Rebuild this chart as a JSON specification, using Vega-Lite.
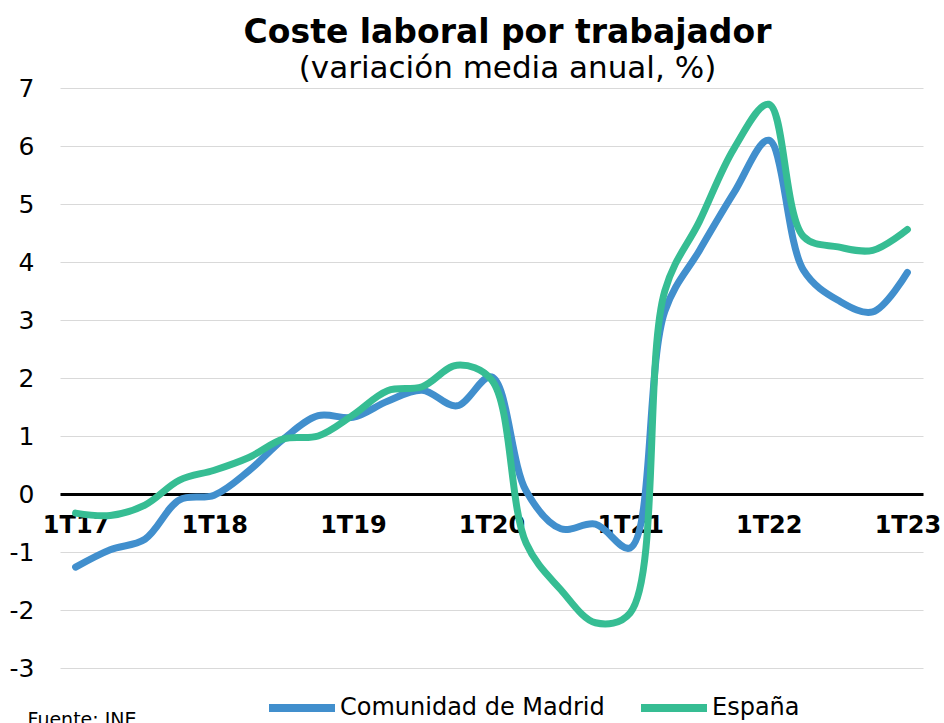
{
  "$schema": "https://vega.github.io/schema/vega-lite/v6.json",
  "width": 863,
  "height": 580,
  "autosize": {"type": "none"},
  "padding": {"left": 60, "top": 88, "right": 21, "bottom": 55},
  "background": "white",
  "title": {
    "text": "Coste laboral por trabajador",
    "subtitle": "(variación media anual, %)",
    "font": "DejaVu Sans",
    "fontSize": 33,
    "fontWeight": "bold",
    "color": "black",
    "subtitleFont": "DejaVu Sans",
    "subtitleFontSize": 31,
    "subtitleColor": "black",
    "subtitlePadding": 4,
    "anchor": "middle",
    "dx": 16,
    "offset": -8
  },
  "datasets": {
    "series": [
      {"q": "1T17", "serie": "Comunidad de Madrid", "v": -1.26},
      {"q": "2T17", "serie": "Comunidad de Madrid", "v": -0.96},
      {"q": "3T17", "serie": "Comunidad de Madrid", "v": -0.78},
      {"q": "4T17", "serie": "Comunidad de Madrid", "v": -0.1},
      {"q": "1T18", "serie": "Comunidad de Madrid", "v": -0.02},
      {"q": "2T18", "serie": "Comunidad de Madrid", "v": 0.4},
      {"q": "3T18", "serie": "Comunidad de Madrid", "v": 0.95},
      {"q": "4T18", "serie": "Comunidad de Madrid", "v": 1.35},
      {"q": "1T19", "serie": "Comunidad de Madrid", "v": 1.32},
      {"q": "2T19", "serie": "Comunidad de Madrid", "v": 1.6},
      {"q": "3T19", "serie": "Comunidad de Madrid", "v": 1.79},
      {"q": "4T19", "serie": "Comunidad de Madrid", "v": 1.52},
      {"q": "1T20", "serie": "Comunidad de Madrid", "v": 2.02},
      {"q": "2T20", "serie": "Comunidad de Madrid", "v": 0.05},
      {"q": "3T20", "serie": "Comunidad de Madrid", "v": -0.6},
      {"q": "4T20", "serie": "Comunidad de Madrid", "v": -0.52},
      {"q": "1T21", "serie": "Comunidad de Madrid", "v": -0.93},
      {"q": "2T21", "serie": "Comunidad de Madrid", "v": 3.15},
      {"q": "3T21", "serie": "Comunidad de Madrid", "v": 4.2},
      {"q": "4T21", "serie": "Comunidad de Madrid", "v": 5.2},
      {"q": "1T22", "serie": "Comunidad de Madrid", "v": 6.1},
      {"q": "2T22", "serie": "Comunidad de Madrid", "v": 3.86},
      {"q": "3T22", "serie": "Comunidad de Madrid", "v": 3.34},
      {"q": "4T22", "serie": "Comunidad de Madrid", "v": 3.14},
      {"q": "1T23", "serie": "Comunidad de Madrid", "v": 3.82},
      {"q": "1T17", "serie": "España", "v": -0.33},
      {"q": "2T17", "serie": "España", "v": -0.37},
      {"q": "3T17", "serie": "España", "v": -0.19},
      {"q": "4T17", "serie": "España", "v": 0.24},
      {"q": "1T18", "serie": "España", "v": 0.41},
      {"q": "2T18", "serie": "España", "v": 0.63},
      {"q": "3T18", "serie": "España", "v": 0.95},
      {"q": "4T18", "serie": "España", "v": 1.0},
      {"q": "1T19", "serie": "España", "v": 1.36},
      {"q": "2T19", "serie": "España", "v": 1.78},
      {"q": "3T19", "serie": "España", "v": 1.85},
      {"q": "4T19", "serie": "España", "v": 2.22},
      {"q": "1T20", "serie": "España", "v": 1.97},
      {"q": "2T20", "serie": "España", "v": -0.85},
      {"q": "3T20", "serie": "España", "v": -1.65},
      {"q": "4T20", "serie": "España", "v": -2.22},
      {"q": "1T21", "serie": "España", "v": -2.05},
      {"q": "2T21", "serie": "España", "v": 3.5},
      {"q": "3T21", "serie": "España", "v": 4.7},
      {"q": "4T21", "serie": "España", "v": 5.96},
      {"q": "1T22", "serie": "España", "v": 6.72},
      {"q": "2T22", "serie": "España", "v": 4.44},
      {"q": "3T22", "serie": "España", "v": 4.26},
      {"q": "4T22", "serie": "España", "v": 4.2},
      {"q": "1T23", "serie": "España", "v": 4.56}
    ]
  },
  "data": {"name": "series"},
  "mark": {"type": "line", "interpolate": "catmull-rom", "strokeWidth": 7, "strokeCap": "round", "strokeJoin": "round"},
  "encoding": {
    "x": {
      "field": "q",
      "type": "ordinal",
      "sort": null,
      "scale": {"type": "point", "padding": 0.45},
      "axis": {
        "values": ["1T17", "1T18", "1T19", "1T20", "1T21", "1T22", "1T23"],
        "offset": -174,
        "domain": true,
        "domainColor": "black",
        "domainWidth": 3,
        "ticks": false,
        "grid": false,
        "labelAngle": 0,
        "labelFont": "DejaVu Sans",
        "labelFontSize": 24,
        "labelFontWeight": "bold",
        "labelColor": "black",
        "labelPadding": 19,
        "labelOverlap": false,
        "title": "Fuente: INE",
        "titleFont": "DejaVu Sans",
        "titleFontSize": 19,
        "titleFontWeight": "normal",
        "titleColor": "black",
        "titleAnchor": "start",
        "titleAlign": "left",
        "titleBaseline": "top",
        "titleX": -33,
        "titleY": 216
      }
    },
    "y": {
      "field": "v",
      "type": "quantitative",
      "scale": {"domain": [-3, 7], "nice": false, "zero": false},
      "axis": {
        "values": [-3, -2, -1, 0, 1, 2, 3, 4, 5, 6, 7],
        "labelExpr": "replace(datum.label, '−', '-')",
        "title": null,
        "domain": false,
        "ticks": false,
        "grid": true,
        "gridColor": "#d9d9d9",
        "gridWidth": 1,
        "labelFont": "DejaVu Sans",
        "labelFontSize": 25,
        "labelColor": "black",
        "labelPadding": 26
      }
    },
    "color": {
      "field": "serie",
      "type": "nominal",
      "scale": {"domain": ["Comunidad de Madrid", "España"], "range": ["#418FCD", "#36BD93"]},
      "legend": {
        "title": null,
        "orient": "none",
        "direction": "horizontal",
        "legendX": 205,
        "legendY": 583,
        "symbolType": "stroke",
        "symbolSize": 4356,
        "symbolStrokeWidth": 8,
        "labelFont": "DejaVu Sans",
        "labelFontSize": 24,
        "labelColor": "black",
        "labelOffset": 1,
        "labelLimit": 400,
        "columnPadding": 20
      }
    }
  },
  "config": {"view": {"stroke": null}}
}
